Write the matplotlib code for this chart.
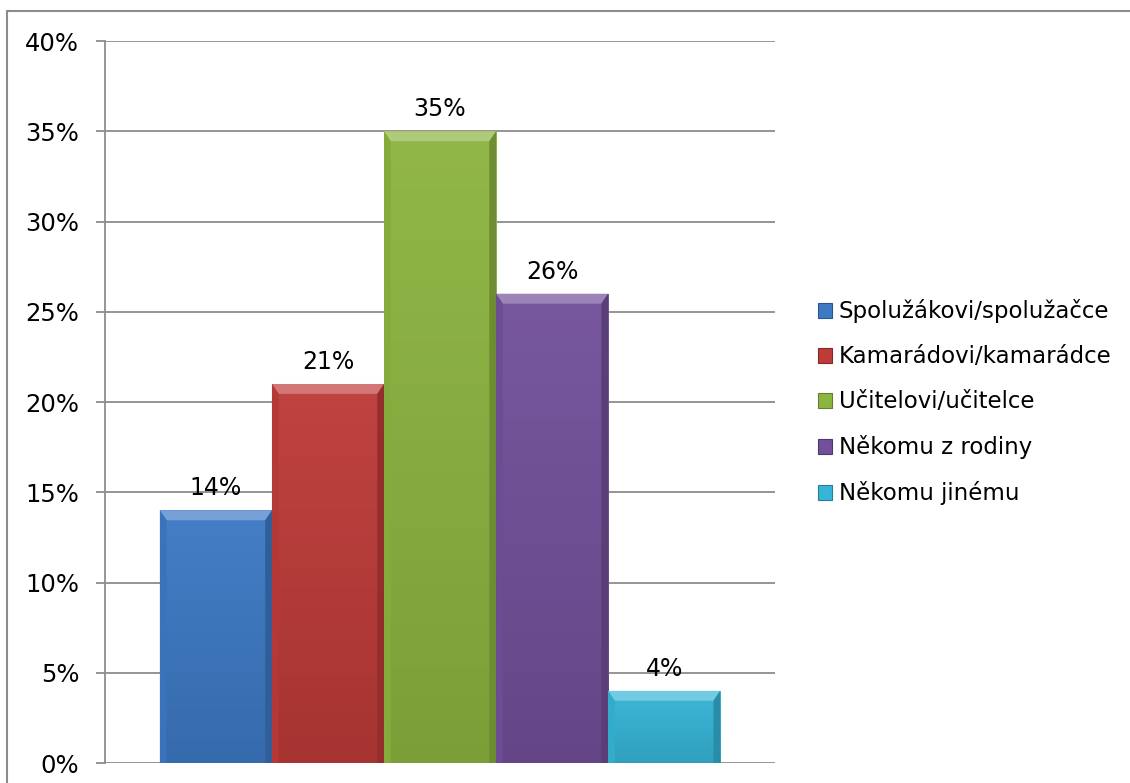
import matplotlib
matplotlib.use('Agg')
import matplotlib.pyplot as plt
import numpy as np
from matplotlib.patches import Rectangle, Polygon
from matplotlib.colors import to_rgb

# Data
kategorie = ['Spolužákovi/spolužačce', 'Kamarádovi/kamarádce', 'Učitelovi/učitelce',
             'Někomu z rodiny', 'Někomu jinému']
hodnoty = [14, 21, 35, 26, 4]
barvy = ['#3D79C4', '#BD3B38', '#8DB440', '#72509A', '#36B5D7']
y_ticks = [0, 5, 10, 15, 20, 25, 30, 35, 40]

plt.rcParams['font.family'] = ['DejaVu Sans']

fig = plt.figure(figsize=(11.3, 7.83), dpi=100)
ax = fig.add_axes([0.0929, 0.0255, 0.593, 0.9221])

# outer frame of the chart
fig.patches.append(Rectangle((0.0062, -0.2), 1.2, 0.986 + 0.2, transform=fig.transFigure,
                             fill=False, edgecolor='#8C8C8C', linewidth=1.5))


def shade(c, f):
    r = np.array(to_rgb(c))
    if f > 0:
        return tuple(r + (1 - r) * f)
    return tuple(r * (1 + f))


x = np.arange(len(hodnoty))
bars = ax.bar(x, hodnoty, width=1.0, color=barvy, zorder=3)

for b, c, v in zip(bars, barvy, hodnoty):
    x0, w, h = b.get_x(), b.get_width(), b.get_height()
    # jemny svisly prechod
    grad = np.linspace(0, 1, 100)[:, None]
    top, bot = np.array(shade(c, 0.04)), np.array(shade(c, -0.12))
    img = top[None, None, :] * (1 - grad[:, :, None]) + bot[None, None, :] * grad[:, :, None]
    im = ax.imshow(img, extent=[x0, x0 + w, 0, h], aspect='auto', zorder=3.5,
                   origin='upper')
    im.set_clip_path(b)
    # zkoseni nahore a po stranach
    bev_y = 0.55
    bev_x = 0.06
    ax.add_patch(Polygon([(x0, h), (x0 + w, h), (x0 + w - bev_x, h - bev_y), (x0 + bev_x, h - bev_y)],
                         closed=True, facecolor=shade(c, 0.3), edgecolor='none', zorder=4))
    ax.add_patch(Polygon([(x0, h), (x0 + bev_x, h - bev_y), (x0 + bev_x, 0), (x0, 0)],
                         closed=True, facecolor=shade(c, -0.05), edgecolor='none', zorder=4))
    ax.add_patch(Polygon([(x0 + w, h), (x0 + w - bev_x, h - bev_y), (x0 + w - bev_x, 0), (x0 + w, 0)],
                         closed=True, facecolor=shade(c, -0.22), edgecolor='none', zorder=4))
    ax.text(x0 + w / 2, h + 0.55, f'{v}%', ha='center', va='bottom', fontsize=17, zorder=5)

ax.set_xlim(-0.5 - 0.49, len(hodnoty) - 0.5 + 0.49)
ax.set_ylim(0, 40)
ax.set_yticks(y_ticks)
ax.set_yticklabels([f'{t}%' for t in y_ticks], fontsize=17.5)
ax.set_xticks([])
ax.yaxis.grid(True, color='#8C8C8C', linewidth=1.3, zorder=0)
ax.set_axisbelow(True)
for s in ['top', 'right', 'bottom']:
    ax.spines[s].set_visible(False)
ax.spines['left'].set_color('#8C8C8C')
ax.spines['left'].set_linewidth(1.3)
ax.tick_params(axis='y', length=6.5, width=1.3, color='#8C8C8C', pad=12)

handles = [Rectangle((0, 0), 1, 1, facecolor=c, edgecolor=shade(c, -0.3), linewidth=0.8)
           for c in barvy]
fig.legend(handles, kategorie, loc='center left', bbox_to_anchor=(0.716, 0.486),
           frameon=False, fontsize=16.5, handlelength=0.6, handleheight=0.6,
           handletextpad=0.3, labelspacing=0.96, borderaxespad=0)

fig.savefig('out.png', dpi=100)
